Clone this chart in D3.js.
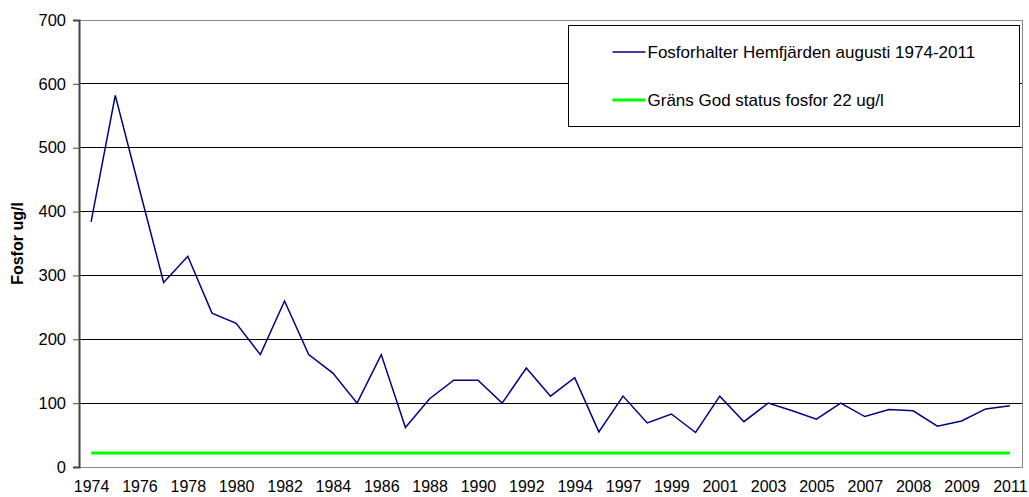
<!DOCTYPE html>
<html>
<head>
<meta charset="utf-8">
<script src="https://cdn.jsdelivr.net/npm/d3@7"></script>
<style>
  body { margin: 0; background: #fff; }
  svg { display: block; font-family: "Liberation Sans", Arial, sans-serif; }
</style>
</head>
<body>
<div class="container"></div>
<script>
// sampled years (one value per august sample), labels shown on every other one
const years = ["1974","1975","1976","1977","1978","1979","1980","1981","1982","1983",
  "1984","1985","1986","1987","1988","1989","1990","1991","1992","1993",
  "1994","1996","1997","1998","1999","2000","2001","2002","2003","2004",
  "2005","2006","2007","2007","2008","2008","2009","2010","2011"]
const fosfor = [384,582,435,289,330,241,225,176,260,176,
  147,100,176,62,107,136,136,100,155,111,
  140,55,111,69,83,54,111,71,100,88,
  75,100,79,90,88,64,72,91,96]
const godStatus = 22
const yTicks = [0,100,200,300,400,500,600,700]
const seriesNames = ["Fosforhalter Hemfjärden augusti 1974-2011", "Gräns God status fosfor 22 ug/l"]

width = 1029
height = 497
margin = ({ top: 20, right: 7, bottom: 30, left: 79 })

const svg = d3.select(".container").append("svg")
    .attr("width", width)
    .attr("height", height)

x = d3.scalePoint()
    .domain(d3.range(years.length))
    .range([margin.left, width - margin.right])
    .padding(0.5)

y = d3.scaleLinear()
    .domain([0, 700])
    .range([height - margin.bottom, margin.top])

// gridlines
svg.append("g")
    .selectAll("line")
    .data(yTicks.filter(d => d > 0 && d < 700))
    .join("line")
    .attr("x1", margin.left)
    .attr("x2", width - margin.right)
    .attr("y1", d => y(d))
    .attr("y2", d => y(d))
    .attr("stroke", "#000")
    .attr("stroke-width", 1)
    .attr("shape-rendering", "crispEdges")

// plot frame (top, right, bottom)
svg.append("path")
    .attr("d", `M${margin.left},${y(700)}H${width - margin.right}V${y(0)}H${margin.left}`)
    .attr("fill", "none")
    .attr("stroke", "#888")
    .attr("shape-rendering", "crispEdges")

// y axis
const gy = svg.append("g")
    .attr("transform", `translate(${margin.left},0)`)
    .call(d3.axisLeft(y).tickValues(yTicks).tickSize(6).tickPadding(7))
gy.select(".domain").attr("stroke", "#444").attr("stroke-width", 2)
gy.selectAll(".tick line").attr("stroke", "#444")
gy.selectAll(".tick text")
    .attr("font-size", "16.5px")
    .attr("fill", "#000")
    .attr("font-family", "Liberation Sans, Arial, sans-serif")

// x axis labels, every other category
const gx = svg.append("g")
    .attr("transform", `translate(0,${y(0)})`)
    .call(d3.axisBottom(x)
        .tickValues(d3.range(0, years.length, 2))
        .tickFormat(i => years[i])
        .tickSize(0)
        .tickPadding(14))
gx.select(".domain").remove()
gx.selectAll(".tick text")
    .attr("font-size", "16px")
    .attr("fill", "#000")
    .attr("font-family", "Liberation Sans, Arial, sans-serif")

// y title
svg.append("text")
    .attr("transform", `translate(23,${(y(0) + y(700)) / 2}) rotate(-90)`)
    .attr("text-anchor", "middle")
    .attr("font-weight", "bold")
    .attr("font-size", "16px")
    .text("Fosfor ug/l")

// god status line
svg.append("path")
    .datum(years.map((d, i) => i))
    .attr("fill", "none")
    .attr("stroke", "#00ff00")
    .attr("stroke-width", 3)
    .attr("d", d3.line().x(i => x(i)).y(() => y(godStatus)))

// fosfor series
svg.append("path")
    .datum(fosfor)
    .attr("fill", "none")
    .attr("stroke", "#000080")
    .attr("stroke-width", 1.5)
    .attr("stroke-linejoin", "miter")
    .attr("d", d3.line().x((d, i) => x(i)).y(d => y(d)))

// legend
const legend = svg.append("g").attr("transform", "translate(568.5,25.5)")
legend.append("rect")
    .attr("width", 451)
    .attr("height", 101)
    .attr("fill", "#fff")
    .attr("stroke", "#000")
const legendItems = legend.selectAll("g.item")
    .data(seriesNames)
    .join("g")
    .attr("class", "item")
    .attr("transform", (d, i) => `translate(0,${i === 0 ? 26.5 : 74.5})`)
legendItems.append("line")
    .attr("x1", 44)
    .attr("x2", 77)
    .attr("stroke", (d, i) => i === 0 ? "#000080" : "#00ff00")
    .attr("stroke-width", (d, i) => i === 0 ? 1.5 : 3)
legendItems.append("text")
    .attr("x", 79)
    .attr("dy", "0.35em")
    .attr("font-size", "17px")
    .text(d => d)
</script>
</body>
</html>
